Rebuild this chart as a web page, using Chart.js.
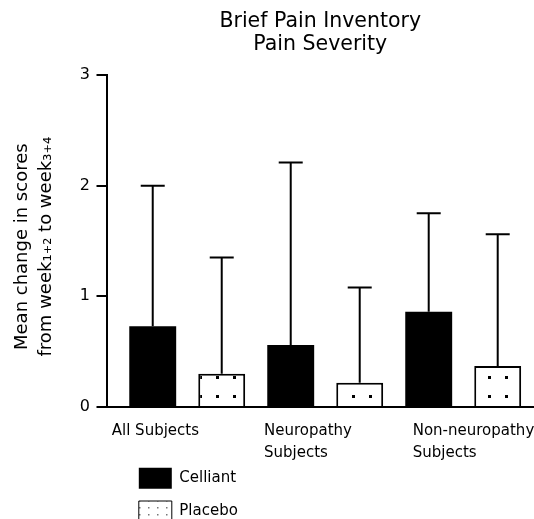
<!DOCTYPE html>
<html>
<head>
<meta charset="utf-8">
<script src="https://cdn.jsdelivr.net/npm/chart.js@4.4.1/dist/chart.umd.min.js"></script>
<style>
  html, body { margin: 0; padding: 0; background: #fff; }
  #wrap { width: 534px; height: 519px; }
</style>
</head>
<body>
<div id="wrap"><canvas id="myChart"></canvas></div>
<script>
const categories = ['All Subjects', ['Neuropathy', 'Subjects'], ['Non-neuropathy', 'Subjects']];
const celliantMean = [0.73, 0.56, 0.86];
const celliantSD = [1.27, 1.65, 0.89];
const placeboMean = [0.30, 0.22, 0.37];
const placeboSD = [1.05, 0.86, 1.19];
const yTicks = [0, 1, 2, 3];

// where each category label starts, in x-axis units
const labelAnchors = [-0.547, 0.556, 1.634];

const font = 'DejaVu Sans';
Chart.defaults.font.family = font;
Chart.defaults.color = '#000';

// dotted fill for the placebo bars
function dotPattern(w, h, dx, dy, size, color) {
    const c = document.createElement('canvas');
    c.width = w;
    c.height = h;
    const g = c.getContext('2d');
    g.fillStyle = '#fff';
    g.fillRect(0, 0, w, h);
    g.fillStyle = color;
    g.fillRect(dx, dy, size, size);
    return g.createPattern(c, 'repeat');
}
const barDots = dotPattern(17, 19, 12, 15, 3, '#000');
const legendDots = dotPattern(9, 7, 4, 3, 1.5, '#777');

// upper error bars (mean + SD)
const errorBars = {
    id: 'errorBars',
    afterDatasetsDraw(chart) {
        const ctx = chart.ctx;
        const y = chart.scales.y;
        ctx.save();
        ctx.strokeStyle = '#000';
        ctx.lineWidth = 2;
        chart.data.datasets.forEach((ds, di) => {
            chart.getDatasetMeta(di).data.forEach((bar, i) => {
                const top = y.getPixelForValue(ds.data[i].y + ds.sd[i]);
                ctx.beginPath();
                ctx.moveTo(bar.x, bar.y);
                ctx.lineTo(bar.x, top);
                ctx.moveTo(bar.x - 12, top);
                ctx.lineTo(bar.x + 12, top);
                ctx.stroke();
            });
        });
        ctx.restore();
    }
};

// stack the legend items under the first group
const legendPlace = {
    id: 'legendPlace',
    afterLayout(chart) {
        const lg = chart.legend;
        lg.left = chart.chartArea.left + 20;
        lg.right = lg.left + 140;
        lg.width = 140;
        lg.top = chart.chartArea.bottom + 48.4;
        lg.bottom = lg.top + 80;
        lg.height = 80;
    }
};

const ctx = document.getElementById('myChart');
new Chart(ctx, {
    type: 'bar',
    data: {
        datasets: [{
            label: 'Celliant',
            data: celliantMean.map((v, i) => ({ x: i, y: v })),
            sd: celliantSD,
            backgroundColor: '#000',
            borderWidth: 0
        }, {
            label: 'Placebo',
            data: placeboMean.map((v, i) => ({ x: i, y: v })),
            sd: placeboSD,
            backgroundColor: barDots,
            borderColor: '#000',
            borderWidth: 2
        }]
    },
    options: {
        responsive: true,
        maintainAspectRatio: false,
        animation: false,
        categoryPercentage: 1.0,
        barPercentage: 0.68,
        layout: { padding: { left: 0, right: 0, top: 0, bottom: 8.7 } },
        plugins: {
            title: {
                display: true,
                text: ['Brief Pain Inventory', 'Pain Severity'],
                color: '#000',
                fullSize: false,
                font: { family: font, size: 20.5, weight: 'normal', lineHeight: 1.14 },
                padding: { top: 9.5, bottom: 18.7 }
            },
            legend: {
                position: 'bottom',
                align: 'start',
                fullSize: false,
                labels: {
                    color: '#000',
                    font: { family: font, size: 15 },
                    boxWidth: 33,
                    boxHeight: 21,
                    padding: 12.3,
                    generateLabels: (chart) => {
                        const items = Chart.defaults.plugins.legend.labels.generateLabels(chart);
                        items.forEach(it => {
                            if (it.lineWidth) {
                                it.lineWidth = 1;
                                it.fillStyle = legendDots;
                            }
                        });
                        return items;
                    }
                }
            },
            tooltip: { enabled: false }
        },
        scales: {
            x: {
                type: 'linear',
                min: -0.585,
                max: 2.513,
                offset: false,
                grid: { display: false, drawTicks: false },
                border: { display: true, color: '#000', width: 2 },
                afterBuildTicks: (s) => { s.ticks = labelAnchors.map(v => ({ value: v })); },
                afterFit: (s) => {
                    s.height = 60;
                    s.paddingLeft = 0;
                    s.paddingRight = 0;
                },
                ticks: {
                    autoSkip: false,
                    maxRotation: 0,
                    minRotation: 0,
                    align: 'start',
                    padding: 13.75,
                    color: '#000',
                    font: { family: font, size: 15, lineHeight: 1.43 },
                    callback: (v, i) => categories[i]
                }
            },
            y: {
                min: yTicks[0],
                max: yTicks[yTicks.length - 1],
                afterBuildTicks: (s) => { s.ticks = yTicks.map(v => ({ value: v })); },
                afterFit: (s) => { s.width = 106.5; },
                grid: { drawOnChartArea: false, drawTicks: true, tickLength: 10, color: '#000', lineWidth: 2 },
                border: { display: true, color: '#000', width: 2 },
                ticks: { padding: 6.5, color: '#000', font: { family: font, size: 16 } },
                title: {
                    display: true,
                    text: ['Mean change in scores  ', 'from week\u2081\u208A\u2082 to week\u2083\u208A\u2084  '],
                    color: '#000',
                    font: { family: font, size: 18, lineHeight: 1.356 },
                    padding: { top: 9.9, bottom: 0 }
                }
            }
        }
    },
    plugins: [errorBars, legendPlace]
});
</script>
</body>
</html>
